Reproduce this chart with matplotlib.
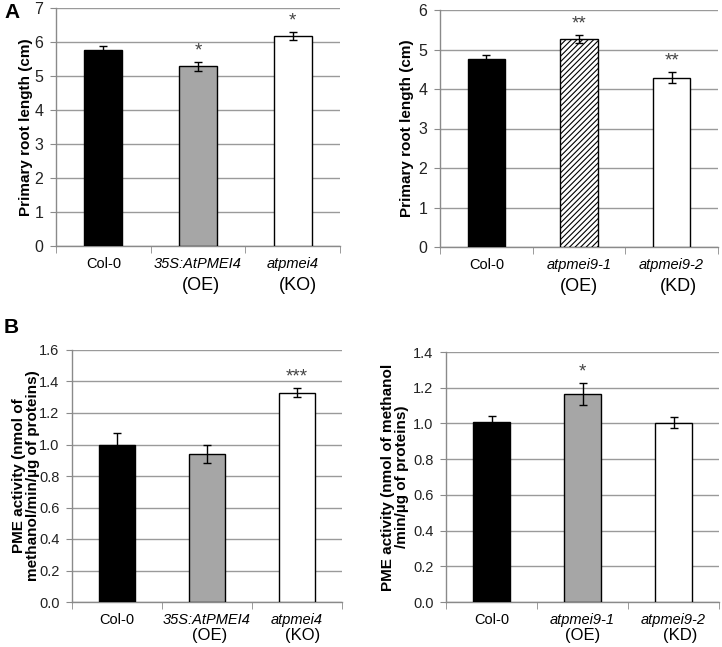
import numpy as np
import matplotlib
matplotlib.use("Agg")
import matplotlib.pyplot as plt
from matplotlib import transforms

plt.rcParams['font.family'] = ['Liberation Sans', 'DejaVu Sans']
plt.rcParams['hatch.linewidth'] = 0.8

# Panel A, left: primary root length
a1_names = ["Col-0", "35S:AtPMEI4", "atpmei4"]
a1_sub = ["", "(OE)", "(KO)"]
a1_vals = [5.75, 5.28, 6.18]
a1_err = [0.12, 0.12, 0.12]
a1_stars = ["", "*", "*"]

# Panel A, right
a2_names = ["Col-0", "atpmei9-1", "atpmei9-2"]
a2_sub = ["", "(OE)", "(KD)"]
a2_vals = [4.77, 5.27, 4.28]
a2_err = [0.08, 0.10, 0.14]
a2_stars = ["", "**", "**"]

# Panel B, left: PME activity
b1_vals = [1.00, 0.94, 1.33]
b1_err = [0.075, 0.055, 0.03]
b1_stars = ["", "", "***"]

# Panel B, right
b2_vals = [1.01, 1.165, 1.005]
b2_err = [0.03, 0.06, 0.03]
b2_stars = ["", "*", ""]

W, H = 722, 647
fig = plt.figure(figsize=(W / 100, H / 100), dpi=100)


def make_ax(x0, y0, x1, y1):
    return fig.add_axes([x0 / W, 1 - y1 / H, (x1 - x0) / W, (y1 - y0) / H])


def draw_panel(ax, vals, err, stars, names, subs, ymax, ystep, fmt, ylabel,
               hatched=False, tick_size=11, label_x=-0.1, sub_dx=(0, 2, 4),
               sub_dy=-22, sub_size=13):
    x = np.arange(len(vals))
    colors = ["black", "#a6a6a6", "white"]
    for i in x:
        fc = colors[i]
        hatch = None
        if hatched and i == 1:
            fc = "white"
            hatch = "//////"
        ax.bar(i, vals[i], width=0.4, color=fc, edgecolor="black",
               linewidth=1.0, hatch=hatch, zorder=3)
    ax.errorbar(x, vals, yerr=err, fmt="none", ecolor="black",
                elinewidth=1.0, capsize=3, capthick=1.0, zorder=4)
    for i in x:
        if stars[i]:
            ax.annotate(stars[i], (i, vals[i] + err[i]), xytext=(0, 2),
                        textcoords="offset points", ha="center", va="bottom",
                        fontsize=13.5, color="#444444")
    ax.set_xlim(-0.5, 2.5)
    ax.set_ylim(0, ymax)
    ticks = np.arange(0, ymax + ystep / 2, ystep)
    ax.set_yticks(ticks)
    ax.set_yticklabels([fmt.format(t) for t in ticks], fontsize=tick_size,
                       color="#222222")
    ax.yaxis.grid(True, color="#9a9a9a", linewidth=1.0, zorder=0)
    ax.set_axisbelow(True)
    for s in ["top", "right"]:
        ax.spines[s].set_visible(False)
    for s in ["left", "bottom"]:
        ax.spines[s].set_color("#8a8a8a")
        ax.spines[s].set_linewidth(1.0)
    ax.tick_params(axis="y", length=4, color="#8a8a8a", pad=5)
    ax.set_xticks([])
    ax.set_xticks([-0.5, 0.5, 1.5, 2.5], minor=True)
    ax.tick_params(axis="x", which="minor", length=5, color="#8a8a8a")
    ax.set_ylabel(ylabel, fontsize=11, fontweight="bold", linespacing=0.95)
    ax.yaxis.set_label_coords(label_x, 0.5)
    trans = transforms.blended_transform_factory(ax.transData, ax.transAxes)
    for i, (n, s) in enumerate(zip(names, subs)):
        style = "normal" if n == "Col-0" else "italic"
        ax.annotate(n, (i, 0), xycoords=trans, xytext=(0, -8),
                    textcoords="offset points", ha="center", va="top",
                    fontsize=10.5, style=style)
        if s:
            ax.annotate(s, (i, 0), xycoords=trans, xytext=(sub_dx[i], sub_dy),
                        textcoords="offset points", ha="center", va="top",
                        fontsize=sub_size)


ax1 = make_ax(56, 8, 340, 246)
draw_panel(ax1, a1_vals, a1_err, a1_stars, a1_names, a1_sub, 7, 1, "{:.0f}",
           "Primary root length (cm)", tick_size=11.5, label_x=-0.081)

ax2 = make_ax(440, 10, 718, 247)
draw_panel(ax2, a2_vals, a2_err, a2_stars, a2_names, a2_sub, 6, 1, "{:.0f}",
           "Primary root length (cm)", hatched=True, tick_size=11.5,
           label_x=-0.094, sub_dx=(0, 0, 5))

ax3 = make_ax(72, 350, 342, 602)
draw_panel(ax3, b1_vals, b1_err, b1_stars, a1_names, a1_sub, 1.6, 0.2,
           "{:.1f}", "PME activity (nmol of\nmethanol/min/µg of proteins)",
           tick_size=10.5, label_x=-0.119, sub_dy=-19, sub_size=12)

ax4 = make_ax(446, 352, 719, 602)
draw_panel(ax4, b2_vals, b2_err, b2_stars, a2_names, a2_sub, 1.4, 0.2,
           "{:.1f}", "PME activity (nmol of methanol\n/min/µg of proteins)",
           tick_size=10.5, label_x=-0.136, sub_dx=(0, 0, 5), sub_dy=-19,
           sub_size=12)

fig.text(4 / W, 1 - 12 / H, "A", fontsize=15, fontweight="bold", va="center")
fig.text(4 / W, 1 - 327 / H, "B", fontsize=15, fontweight="bold", va="center")

fig.savefig("out.png", dpi=100)
